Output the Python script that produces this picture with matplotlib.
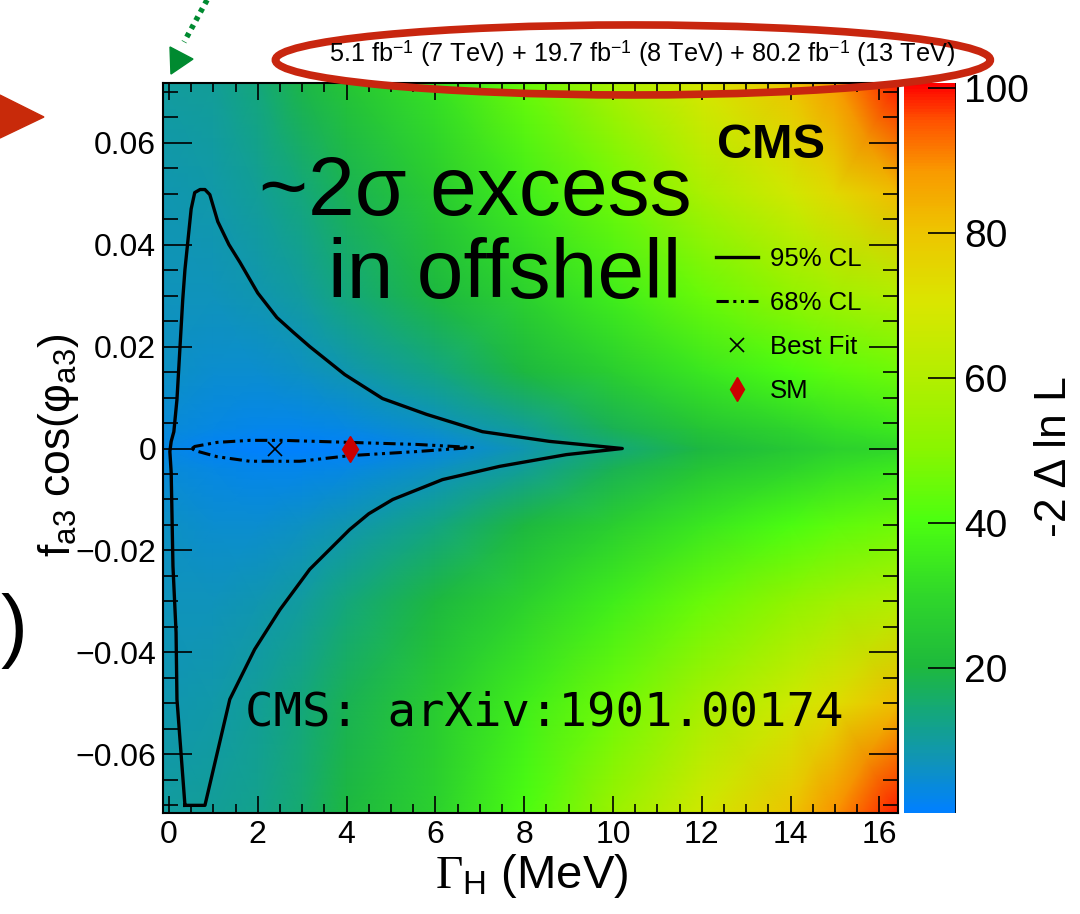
import numpy as np
import matplotlib.pyplot as plt
from matplotlib.colors import LinearSegmentedColormap, Normalize
from matplotlib.lines import Line2D
from matplotlib.patches import Ellipse, Polygon
from matplotlib.ticker import MultipleLocator, FixedLocator, FixedFormatter

plt.rcParams['font.family'] = ['Liberation Sans', 'DejaVu Sans']
plt.rcParams['mathtext.fontset'] = 'custom'
plt.rcParams['mathtext.rm'] = 'Liberation Serif'
plt.rcParams['mathtext.it'] = 'Liberation Serif:italic'

# scan grid (-2 delta ln L)
gamma = [-0.14, 1, 2, 3, 4, 6, 8, 10, 12, 14, 15, 16.42]
fa3 = [-0.0715, -0.05, -0.03, -0.015, -0.004, 0.0, 0.004, 0.015, 0.03, 0.05, 0.0717]
nll = [
    [10, 11, 12, 15, 20, 28, 40, 54, 68, 80, 89, 99],
    [8, 9, 11, 14, 18, 26, 36, 46, 57, 67, 73, 82],
    [7, 7, 8, 10, 14, 20, 28, 36, 45, 52, 56, 60],
    [6, 5, 5, 6, 8, 13, 20, 27, 34, 40, 43, 46],
    [4, 3, 2, 2, 3, 6, 11, 18, 24, 29, 32, 35],
    [3, 1, 0, 0, 0.5, 3, 8, 14, 20, 25, 28, 30],
    [4, 3, 2, 2, 3, 6, 11, 18, 24, 29, 32, 35],
    [6, 5, 5, 6, 8, 13, 20, 27, 34, 40, 43, 46],
    [7, 7, 8, 10, 14, 20, 28, 36, 45, 52, 56, 60],
    [8, 9, 11, 14, 18, 26, 36, 46, 58, 68, 74, 82],
    [10, 11, 14, 19, 24, 33, 45, 58, 70, 80, 88, 99],
]

# 95% CL contour
cl95_gamma = [0.36, 0.18, 0.16, 0.09, 0.05, 0.02, 0.05, 0.11, 0.18, 0.31, 0.36, 0.50, 0.58,
              0.70, 0.81, 0.92, 1.10, 1.35, 1.60, 2.00, 2.43, 2.80, 3.17, 3.96, 4.81, 5.80,
              7.06, 8.57, 10.21, 8.95, 7.45, 6.16, 5.04, 4.50, 4.07, 3.17, 2.50, 1.93, 1.37,
              0.81, 0.36]
cl95_fa3 = [-0.070, -0.0492, -0.0361, -0.0231, -0.0047, -0.0006, 0.0014, 0.0033, 0.0096,
            0.0292, 0.0351, 0.0470, 0.0502, 0.0508, 0.0508, 0.0498, 0.0445, 0.0400,
            0.0365, 0.0305, 0.0257, 0.0228, 0.0200, 0.0145, 0.0098, 0.0067, 0.0033,
            0.0014, 0.0, -0.0012, -0.0035, -0.0061, -0.0100, -0.0128, -0.0159, -0.0237,
            -0.0316, -0.0394, -0.0492, -0.070, -0.070]

# 68% CL contour
cl68_gamma = [0.52, 0.58, 1.08, 1.82, 2.56, 4.07, 5.58, 6.84, 5.58, 4.07, 2.95, 1.82, 1.08, 0.58, 0.52]
cl68_fa3 = [0.0, 0.0004, 0.0012, 0.0016, 0.0016, 0.0012, 0.0008, 0.0002, -0.0006, -0.0014,
            -0.0025, -0.0025, -0.0016, -0.0004, 0.0]

best_fit = [2.38, 0.0]
sm_point = [4.07, 0.0]

x_ticks = [0, 2, 4, 6, 8, 10, 12, 14, 16]
y_ticks = [-0.06, -0.04, -0.02, 0.0, 0.02, 0.04, 0.06]
y_tick_labels = ['\u22120.06', '\u22120.04', '\u22120.02', '0', '0.02', '0.04', '0.06']
z_ticks = [20, 40, 60, 80, 100]

lumi_text = ('5.1 fb$^{\\mathregular{-1}}$ (7 TeV) + 19.7 fb$^{\\mathregular{-1}}$ (8 TeV) + '
             '80.2 fb$^{\\mathregular{-1}}$ (13 TeV)')

# palette
cmap = LinearSegmentedColormap.from_list('scan', [
    (0.00, '#0080ff'), (0.07, '#1094b8'), (0.14, '#14a878'), (0.20, '#1eb93c'),
    (0.30, '#30d82a'), (0.40, '#4cff10'), (0.50, '#8af500'), (0.60, '#b4ee00'),
    (0.70, '#dae600'), (0.80, '#eec400'), (0.88, '#f99a00'), (0.95, '#ff5200'),
    (1.00, '#ff0000')])
norm = Normalize(vmin=0, vmax=100.7)

fig = plt.figure(figsize=(10.8, 9.14), dpi=100)
ax = fig.add_axes([0.1509, 0.1105, 0.6806, 0.7987])
cax = fig.add_axes([0.837, 0.1105, 0.048, 0.7987])

G, F = np.meshgrid(gamma, fa3)
mesh = ax.pcolormesh(G, F, np.array(nll), cmap=cmap, norm=norm, shading='gouraud')

dashdot3 = (0, (4, 1.5, 1, 1.5, 1, 1.5))
ax.plot(cl95_gamma, cl95_fa3, color='black', lw=2.4, solid_joinstyle='round')
ax.plot(cl68_gamma, cl68_fa3, color='black', lw=2.2, linestyle=dashdot3)
ax.plot(best_fit[0], best_fit[1], marker='x', color='black', ms=10, mew=1.2, ls='none')
ax.plot(sm_point[0], sm_point[1], marker='d', color='#cc0000', ms=13, ls='none')

ax.set_xlim(-0.135, 16.42)
ax.set_ylim(-0.0715, 0.0717)
ax.xaxis.set_major_locator(FixedLocator(x_ticks))
ax.xaxis.set_minor_locator(MultipleLocator(0.5))
ax.yaxis.set_major_locator(FixedLocator(y_ticks))
ax.yaxis.set_major_formatter(FixedFormatter(y_tick_labels))
ax.yaxis.set_minor_locator(MultipleLocator(0.005))
ax.tick_params(which='both', direction='in', top=True, right=True, width=1.2, labelsize=23)
ax.tick_params(axis='x', which='major', length=12, pad=5)
ax.tick_params(axis='x', which='minor', length=6.5)
ax.tick_params(axis='y', which='major', length=21, pad=5)
ax.tick_params(axis='y', which='minor', length=10.5)
for s in ax.spines.values():
    s.set_linewidth(1.5)

# colorbar
cbar = fig.colorbar(mesh, cax=cax, ticks=z_ticks)
cbar.outline.set_visible(False)
cax.add_line(Line2D([1, 1], [0, 1], transform=cax.transAxes, color='black', lw=1.2))
cax.tick_params(direction='in', length=20, width=1.2, labelsize=28, pad=6)
cax.minorticks_off()
fig.text(0.976, 0.50, '-2 \u0394 ln L', rotation=90, fontsize=32, ha='center', va='center')

# axis labels
fig.text(0.492, 0.028, '$\\Gamma_{\\mathregular{H}}$ (MeV)', fontsize=34, ha='center', va='baseline')
fig.text(0.054, 0.513, 'f$_{\\mathregular{a3}}$ cos(\u03c6$_{\\mathregular{a3}}$)', rotation=90,
         fontsize=32, ha='center', va='center')

# texts inside the frame
ax.text(0.7537, 0.897, 'CMS', transform=ax.transAxes, fontsize=35, fontweight='bold',
        ha='left', va='baseline')
ax.text(0.1300, 0.8192, '~2\u03c3 excess', transform=ax.transAxes, fontsize=60.5,
        ha='left', va='baseline')
ax.text(0.2245, 0.7055, 'in offshell', transform=ax.transAxes, fontsize=60.5,
        ha='left', va='baseline')
ax.text(0.1116, 0.1205, 'CMS: arXiv:1901.00174', transform=ax.transAxes, fontsize=34,
        family='DejaVu Sans Mono', ha='left', va='baseline')

handles = [
    Line2D([], [], color='black', lw=2.4),
    Line2D([], [], color='black', lw=2.2, linestyle=dashdot3),
    Line2D([], [], color='black', marker='x', ms=10, mew=1.2, ls='none'),
    Line2D([], [], color='#cc0000', marker='d', ms=12, ls='none'),
]
ax.legend(handles, ['95% CL', '68% CL', 'Best Fit', 'SM'], loc='upper left',
          bbox_to_anchor=(0.752, 0.776), frameon=False, fontsize=18.5, handlelength=1.65,
          handletextpad=0.45, labelspacing=0.78, borderpad=0, borderaxespad=0)

# luminosity label and overlay annotations
fig.text(0.884, 0.933, lumi_text, fontsize=18.2, ha='right', va='baseline')
fig.add_artist(Ellipse((0.586, 0.9344), 0.662, 0.0766, transform=fig.transFigure,
                       fill=False, edgecolor='#c8260f', lw=5.5))
fig.add_artist(Polygon([[0.0, 0.896], [0.0407, 0.872], [0.0, 0.849]], closed=True,
                       transform=fig.transFigure, color='#c82a0a'))
fig.add_artist(Line2D([0.1917, 0.1704], [1.0, 0.954], transform=fig.transFigure,
                      color='#008a30', lw=4, linestyle=(0, (0.8, 0.9))))
fig.add_artist(Polygon([[0.1574, 0.9486], [0.1787, 0.9354], [0.1583, 0.919]], closed=True,
                       transform=fig.transFigure, color='#008a30'))
fig.text(0.0, 0.31, ')', fontsize=58, fontweight='light', ha='left', va='center')

fig.savefig('out.png', dpi=100)
